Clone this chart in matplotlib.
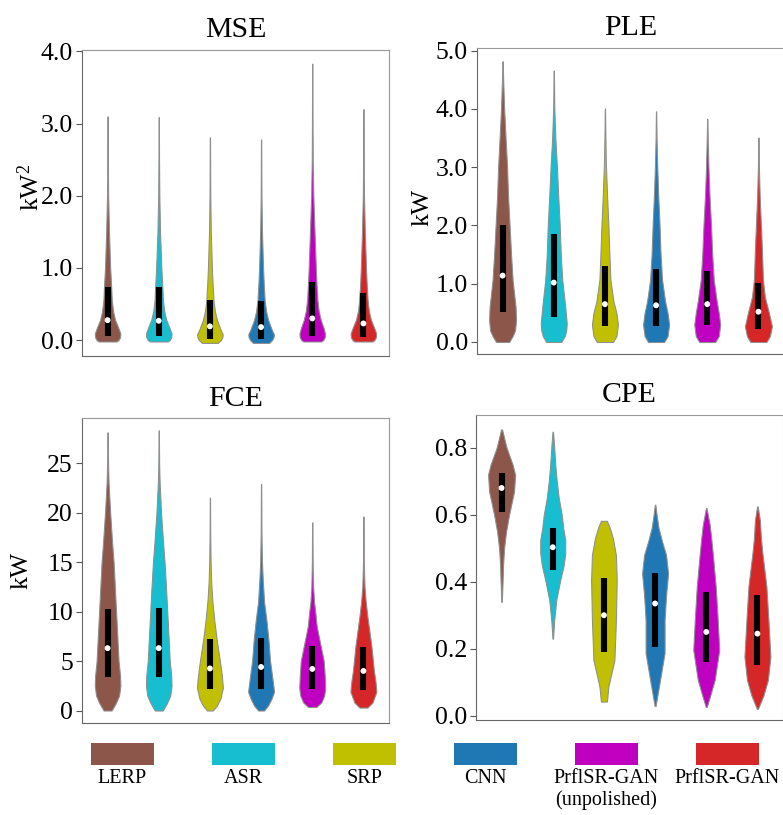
import numpy as np
import matplotlib.pyplot as plt

plt.rcParams['font.family'] = ['Liberation Serif', 'DejaVu Serif']
plt.rcParams['mathtext.fontset'] = 'custom'
plt.rcParams['mathtext.rm'] = 'Liberation Serif'

methods = ['LERP', 'ASR', 'SRP', 'CNN', 'PrflSR-GAN\n(unpolished)', 'PrflSR-GAN']
colors = ['#8c564b', '#17becf', '#c0bf00', '#1f77b4', '#bf00c0', '#d62728']

# violin outlines: value levels and half-width (px) at each level
mse_levels = [
    [-0.02, 0.0, 0.04, 0.09, 0.16, 0.28, 0.4, 0.55, 0.74, 1.0, 1.5, 2.0, 2.5, 3.10],
    [-0.02, 0.0, 0.04, 0.09, 0.16, 0.28, 0.4, 0.55, 0.74, 1.0, 1.5, 2.0, 2.5, 3.09],
    [-0.04, 0.0, 0.04, 0.08, 0.15, 0.28, 0.4, 0.55, 0.8, 1.0, 1.5, 2.0, 2.4, 2.81],
    [-0.04, 0.0, 0.04, 0.08, 0.15, 0.28, 0.4, 0.55, 0.8, 1.0, 1.5, 2.0, 2.4, 2.78],
    [-0.02, 0.0, 0.04, 0.09, 0.16, 0.28, 0.4, 0.55, 0.8, 1.0, 1.5, 2.0, 2.5, 3.0, 3.83],
    [-0.02, 0.0, 0.04, 0.09, 0.16, 0.28, 0.4, 0.55, 0.8, 1.0, 1.5, 2.0, 2.5, 3.20],
]
mse_halfw = [
    [9, 11, 12.5, 12.8, 11, 7.5, 5.5, 4.2, 3.6, 2.6, 1.4, 0.6, 0.3, 0.15],
    [9, 11, 12.5, 12.8, 11, 7.5, 5.5, 4.2, 3.6, 2.6, 1.3, 0.6, 0.3, 0.15],
    [8, 11, 12.5, 12.8, 10.5, 7, 5, 3.6, 2.6, 2.0, 0.9, 0.4, 0.25, 0.15],
    [8, 11, 12.5, 12.8, 10.5, 7, 5, 3.6, 2.6, 2.0, 0.9, 0.4, 0.25, 0.15],
    [9, 11, 12.5, 12.8, 11.5, 8.5, 6.5, 5.2, 4.2, 3.6, 2.3, 1.1, 0.5, 0.3, 0.15],
    [9, 11, 12.5, 12.8, 11, 7.5, 5.5, 4.2, 3.2, 2.6, 1.4, 0.6, 0.3, 0.15],
]
mse_q1 = [0.055, 0.055, 0.02, 0.02, 0.055, 0.04]
mse_q3 = [0.74, 0.74, 0.55, 0.54, 0.80, 0.65]
mse_med = [0.276, 0.267, 0.19, 0.18, 0.30, 0.23]

ple_levels = [
    [0.0, 0.1, 0.2, 0.38, 0.6, 1.07, 1.5, 2.0, 2.5, 3.0, 3.5, 4.0, 4.5, 4.82],
    [0.0, 0.1, 0.2, 0.32, 0.6, 1.07, 1.5, 2.0, 2.5, 3.0, 3.5, 4.0, 4.66],
    [0.0, 0.1, 0.3, 0.5, 0.7, 1.07, 1.5, 2.0, 2.5, 3.0, 3.5, 4.01],
    [0.0, 0.1, 0.3, 0.5, 0.7, 1.07, 1.5, 2.0, 2.5, 3.0, 3.5, 3.96],
    [0.0, 0.1, 0.3, 0.5, 0.7, 1.07, 1.5, 2.0, 2.5, 3.0, 3.5, 3.83],
    [0.0, 0.1, 0.27, 0.5, 0.77, 1.07, 1.6, 2.0, 2.5, 3.0, 3.51],
]
ple_halfw = [
    [6.5, 10, 12.5, 13.5, 13, 10, 8.5, 7, 5.5, 4.5, 3, 1.6, 0.6, 0.15],
    [7.5, 11, 12.5, 13, 11.5, 8.5, 7, 6, 4.5, 3.2, 1.6, 0.6, 0.15],
    [8, 11.5, 13, 11.5, 8.5, 5.5, 4.5, 3.5, 2.2, 1.1, 0.5, 0.15],
    [8, 11.5, 13, 11.5, 9, 6, 4.5, 3.5, 2.2, 1.2, 0.5, 0.15],
    [8, 11.5, 13, 11.5, 9.5, 6.5, 5, 3.8, 2.3, 1.2, 0.5, 0.15],
    [8, 11.5, 13.5, 10.5, 6.5, 4.5, 3.5, 2.5, 1.3, 0.5, 0.15],
]
ple_q1 = [0.52, 0.43, 0.27, 0.27, 0.29, 0.23]
ple_q3 = [2.00, 1.85, 1.30, 1.26, 1.22, 1.01]
ple_med = [1.14, 1.02, 0.65, 0.63, 0.65, 0.52]

fce_levels = [
    [0, 0.7, 1.5, 2.5, 3.5, 5, 7, 10, 12, 15, 17, 20, 23, 25, 28.1],
    [0, 0.7, 1.5, 2.5, 3.5, 5, 7, 10, 12, 15, 17, 20, 23, 25, 28.3],
    [0, 0.5, 1.2, 2.3, 3.5, 5, 7, 9, 11, 13, 15, 18, 21.5],
    [0, 0.5, 1.2, 1.9, 3.5, 5, 7, 9, 11, 13, 15, 18, 22.9],
    [0.35, 0.8, 1.5, 2.3, 3.5, 5, 6.5, 8.5, 10, 11, 12.5, 15, 19.0],
    [0.3, 0.8, 1.9, 3, 4, 5, 6.5, 8, 9.5, 11, 12.5, 15, 19.6],
]
fce_halfw = [
    [4, 8, 11.5, 12.8, 12.5, 11, 10, 8.5, 7.5, 6, 4.5, 2.6, 1.0, 0.5, 0.15],
    [4, 8, 11.5, 12.8, 12.5, 11, 10, 8.5, 7.5, 5.8, 4.3, 2.3, 0.9, 0.4, 0.15],
    [3, 7, 10.5, 13, 12, 10, 7, 4.5, 2.5, 1.3, 0.7, 0.3, 0.15],
    [3, 7, 10.5, 13, 11, 9, 7.5, 5.5, 3, 1.8, 0.9, 0.4, 0.15],
    [4, 9, 12, 13, 12.5, 11.5, 8.5, 4.5, 3, 1.8, 0.9, 0.4, 0.15],
    [4, 9, 13, 12, 10.5, 9.5, 8, 6, 4, 2.3, 1.1, 0.4, 0.15],
]
fce_q1 = [3.4, 3.4, 2.2, 2.2, 2.2, 2.05]
fce_q3 = [10.3, 10.35, 7.2, 7.35, 6.55, 6.4]
fce_med = [6.3, 6.3, 4.25, 4.4, 4.2, 4.0]

cpe_levels = [
    [0.34, 0.40, 0.45, 0.50, 0.55, 0.60, 0.67, 0.72, 0.75, 0.80, 0.83, 0.855],
    [0.23, 0.286, 0.345, 0.405, 0.45, 0.485, 0.524, 0.56, 0.60, 0.65, 0.70, 0.75, 0.80, 0.848],
    [0.042, 0.087, 0.166, 0.285, 0.405, 0.48, 0.53, 0.56, 0.582],
    [0.029, 0.107, 0.187, 0.285, 0.36, 0.425, 0.48, 0.52, 0.56, 0.60, 0.63],
    [0.026, 0.06, 0.107, 0.196, 0.286, 0.386, 0.485, 0.53, 0.57, 0.62],
    [0.02, 0.06, 0.107, 0.176, 0.286, 0.386, 0.485, 0.53, 0.584, 0.625],
]
cpe_halfw = [
    [0.3, 1, 1.5, 2.5, 4.5, 7.5, 12.5, 13.5, 11, 5, 2.5, 0.5],
    [0.3, 1.5, 3.5, 7.5, 11, 12.5, 12.5, 10.5, 9, 6, 4, 2.5, 1.5, 0.3],
    [3, 4.5, 10.5, 12, 12.8, 12, 9, 6, 3],
    [0.5, 5, 9.5, 9.5, 11, 13, 11, 7, 3.5, 1.5, 0.3],
    [0.5, 4, 8.5, 13, 11.5, 9.5, 6.5, 5, 3.5, 0.3],
    [0.5, 6, 10.5, 13, 11, 9, 5, 3.5, 2.5, 0.3],
]
cpe_q1 = [0.609, 0.435, 0.19, 0.205, 0.16, 0.15]
cpe_q3 = [0.724, 0.56, 0.41, 0.425, 0.37, 0.36]
cpe_med = [0.68, 0.503, 0.30, 0.335, 0.25, 0.245]

W, H = 783, 815
fig = plt.figure(figsize=(W / 100, H / 100), dpi=100)


def make_axes(left, top, bottom, width=307):
    return fig.add_axes([left / W, 1 - bottom / H, width / W, (bottom - top) / H])


def draw_panel(ax, levels, halfw, q1, q3, med, ylim, yticks, fmt, title):
    pos = np.arange(len(levels))
    ax.set_xlim(-0.5, 5.5)
    ax.set_ylim(*ylim)
    px_per_unit = ax.get_position().width * W / 6.0
    stats = []
    for lv, hw, m in zip(levels, halfw, med):
        stats.append({'coords': np.array(lv, float), 'vals': np.array(hw, float),
                      'mean': m, 'median': m, 'min': lv[0], 'max': lv[-1]})
    widths = [2 * max(hw) / px_per_unit for hw in halfw]
    parts = ax.violin(stats, positions=pos, widths=widths, showextrema=False)
    for body, c in zip(parts['bodies'], colors):
        body.set_facecolor(c)
        body.set_edgecolor('#8f8f8f')
        body.set_linewidth(0.75)
        body.set_alpha(1)
    boxes = ax.vlines(pos, q1, q3, color='black', lw=4.4, zorder=3)
    boxes.set_capstyle('butt')
    ax.scatter(pos, med, s=18, color='white', edgecolors='none', zorder=4)

    ax.set_xticks([])
    ax.set_yticks(yticks)
    ax.set_yticklabels([fmt.format(v) for v in yticks])
    ax.tick_params(axis='y', direction='out', length=4, width=0.8, color='#555555',
                   pad=2.5, labelsize=18.5)
    ax.set_title(title, fontsize=21.5, pad=9)
    for side in ['left', 'bottom']:
        ax.spines[side].set_color('#666666')
        ax.spines[side].set_linewidth(0.8)
    for side in ['top', 'right']:
        ax.spines[side].set_color('#999999')
        ax.spines[side].set_linewidth(0.8)


ax_mse = make_axes(82, 50, 356)
draw_panel(ax_mse, mse_levels, mse_halfw, mse_q1, mse_q3, mse_med,
           (-0.221, 4.02), [0, 1, 2, 3, 4], '{:.1f}', 'MSE')
ax_mse.set_ylabel(r'$\mathregular{kW^2}$', fontsize=18.5)
ax_mse.yaxis.set_label_coords(-0.125, 0.55)

ax_ple = make_axes(477, 48, 354)
draw_panel(ax_ple, ple_levels, ple_halfw, ple_q1, ple_q3, ple_med,
           (-0.206, 5.047), [0, 1, 2, 3, 4, 5], '{:.1f}', 'PLE')
ax_ple.set_ylabel('kW', fontsize=18.5)
ax_ple.yaxis.set_label_coords(-0.143, 0.48)

ax_fce = make_axes(82, 418, 723)
draw_panel(ax_fce, fce_levels, fce_halfw, fce_q1, fce_q3, fce_med,
           (-1.26, 29.55), [0, 5, 10, 15, 20, 25], '{:d}', 'FCE')
ax_fce.set_ylabel('kW', fontsize=18.5)
ax_fce.yaxis.set_label_coords(-0.16, 0.5)

ax_cpe = make_axes(476, 415, 720)
draw_panel(ax_cpe, cpe_levels, cpe_halfw, cpe_q1, cpe_q3, cpe_med,
           (-0.013, 0.898), [0.0, 0.2, 0.4, 0.6, 0.8], '{:.1f}', 'CPE')

# legend strip along the bottom
leg = fig.add_axes([0, 1 - 765 / H, 1, 22 / H])
leg.set_xlim(-1.012, 5.459)
leg.set_ylim(0, 1)
leg.axis('off')
leg_pos = np.arange(len(methods))
leg.bar(leg_pos, 1, width=0.52, bottom=0, color=colors, align='center')
for x, name in zip(leg_pos, methods):
    leg.text(x, -0.2, name, ha='center', va='top', fontsize=14.5, linespacing=1.15)

fig.savefig('out.png', dpi=100)
